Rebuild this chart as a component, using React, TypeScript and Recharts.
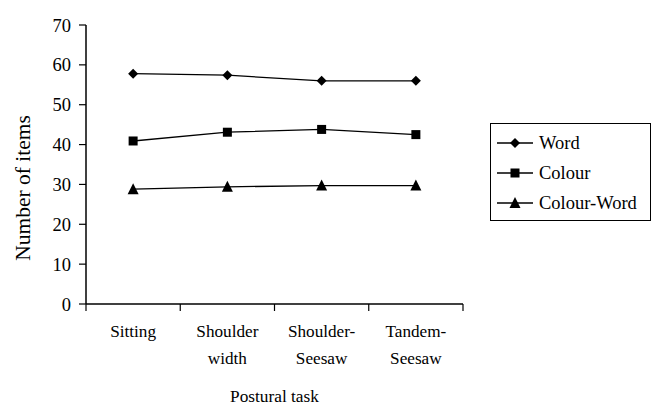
import React from 'react';
import { LineChart, Line, XAxis, YAxis, Legend, Label } from 'recharts';

const categories = ['Sitting', 'Shoulder width', 'Shoulder-Seesaw', 'Tandem-Seesaw'];
const categoryLines = [['Sitting'], ['Shoulder', 'width'], ['Shoulder-', 'Seesaw'], ['Tandem-', 'Seesaw']];
const categoryCentres = [0.5, 1.5, 2.5, 3.5];
const wordValues = [57.8, 57.4, 56.0, 56.0];
const colourValues = [40.9, 43.1, 43.8, 42.5];
const colourWordValues = [28.8, 29.4, 29.7, 29.7];
const yTicks = [0, 10, 20, 30, 40, 50, 60, 70];
const boundaryTicks = [0, 1, 2, 3, 4];

const seriesDefs = [
  { key: 'word', name: 'Word', shape: 'diamond' },
  { key: 'colour', name: 'Colour', shape: 'square' },
  { key: 'colourWord', name: 'Colour-Word', shape: 'triangle' },
];

const data = categories.map((c, i) => ({
  task: c,
  pos: categoryCentres[i],
  word: wordValues[i],
  colour: colourValues[i],
  colourWord: colourWordValues[i],
}));

const FONT = 'Liberation Serif, Tinos, Times New Roman, Liberation Sans, Arial, sans-serif';

function Marker({ cx, cy, shape }: { cx: number; cy: number; shape: string }) {
  if (cx == null || cy == null) return null;
  if (shape === 'diamond') {
    const r = 5;
    return <polygon points={`${cx},${cy - r} ${cx + r},${cy} ${cx},${cy + r} ${cx - r},${cy}`} fill="#000" />;
  }
  if (shape === 'square') {
    const s = 4.5;
    return <rect x={cx - s} y={cy - s} width={2 * s} height={2 * s} fill="#000" />;
  }
  const h = 5;
  return <polygon points={`${cx},${cy - h - 1} ${cx + h + 0.5},${cy + h} ${cx - h - 0.5},${cy + h}`} fill="#000" />;
}

const makeDot = (shape: string) => (props: any) => (
  <Marker key={`${shape}-${props.index}`} cx={props.cx} cy={props.cy} shape={shape} />
);

function CategoryTick(props: any) {
  const { x, y, index, width } = props;
  const lines = categoryLines[index];
  if (!lines) return <g />;
  const step = (width || 377) / (boundaryTicks.length - 1);
  const cx = x + step / 2;
  return (
    <g>
      {lines.map((l, i) => (
        <text key={i} x={cx} y={y + 26 + i * 27} textAnchor="middle" fontFamily={FONT} fontSize={17.2} fill="#000">
          {l}
        </text>
      ))}
    </g>
  );
}

function LegendBox() {
  return (
    <div
      style={{
        border: '1px solid #000',
        width: 159,
        height: 92,
        boxSizing: 'content-box',
        fontFamily: FONT,
        fontSize: 18.5,
        color: '#000',
        paddingTop: 4,
        background: '#fff',
      }}
    >
      {seriesDefs.map((s) => (
        <div key={s.key} style={{ display: 'flex', alignItems: 'center', height: 30, lineHeight: '30px' }}>
          <svg width={48} height={30} style={{ display: 'block' }}>
            <line x1={6} x2={42} y1={15} y2={15} stroke="#000" strokeWidth={1.3} />
            <Marker cx={24} cy={15} shape={s.shape} />
          </svg>
          <span style={{ whiteSpace: 'nowrap' }}>{s.name}</span>
        </div>
      ))}
    </div>
  );
}

export default function App() {
  return (
    <div style={{ position: 'absolute', left: 0, top: 0, width: 664, height: 407, background: '#fff' }}>
      <LineChart width={664} height={407} data={data} margin={{ top: 25, right: 201, bottom: 43, left: 0 }}>
        <XAxis
          dataKey="pos"
          type="number"
          domain={[0, 4]}
          ticks={boundaryTicks}
          interval={0}
          height={60}
          axisLine={{ stroke: '#000', strokeWidth: 1.5 }}
          tickLine={{ stroke: '#000', strokeWidth: 1.2 }}
          tickSize={7}
          tickMargin={0}
          tick={<CategoryTick />}
          allowDataOverflow
        >
          <Label
            content={() => (
              <text x={274.5} y={402} textAnchor="middle" fontFamily={FONT} fontSize={17.3} fill="#000">
                Postural task
              </text>
            )}
          />
        </XAxis>
        <YAxis
          width={86}
          domain={[0, 70]}
          ticks={yTicks}
          interval={0}
          axisLine={{ stroke: '#000', strokeWidth: 1.5 }}
          tickLine={{ stroke: '#000', strokeWidth: 1.2 }}
          tickSize={7}
          tickMargin={8}
          tick={{ fill: '#000', fontFamily: FONT, fontSize: 18.5 }}
        >
          <Label
            content={() => (
              <text
                x={23}
                y={188}
                transform="rotate(-90, 23, 188)"
                textAnchor="middle"
                dominantBaseline="central"
                fontFamily={FONT}
                fontSize={21.5}
                fill="#000"
              >
                Number of items
              </text>
            )}
          />
        </YAxis>
        <Legend
          layout="horizontal"
          align="center"
          verticalAlign="middle"
          content={() => <LegendBox />}
          wrapperStyle={{ left: 490, top: 123, width: 161, height: 98 }}
        />
        {seriesDefs.map((s) => (
          <Line
            key={s.key}
            type="linear"
            dataKey={s.key}
            name={s.name}
            stroke="#000"
            strokeWidth={1.3}
            dot={makeDot(s.shape)}
            activeDot={false}
            isAnimationActive={false}
          />
        ))}
      </LineChart>
    </div>
  );
}
